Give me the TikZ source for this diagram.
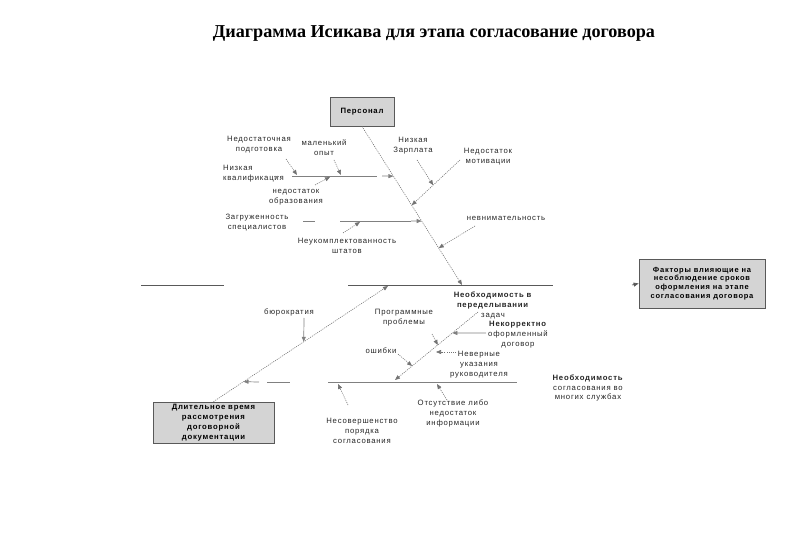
\documentclass[tikz,border=0pt]{standalone}
\usepackage{fontspec}
\setmainfont{Liberation Serif}
\newfontfamily\lblfont[LetterSpace=10]{Liberation Sans}
\usetikzlibrary{positioning, arrows.meta, calc}

\tikzset{
  lbl/.style={font=\lblfont\fontsize{6.6}{8.5}\selectfont, align=center, inner sep=0pt, text=black!85},
  boxnode/.style={draw=black!65, fill=black!17, line width=0.7pt, align=center, inner sep=0pt},
  bone/.style={draw=black!55, line width=0.5pt, dash pattern=on 0.9pt off 0.9pt},
  twig/.style={draw=black!50, line width=0.6pt},
  arr/.style={-{Triangle[length=1.5mm, width=1.2mm]}},
}

\begin{document}
\begin{tikzpicture}[x=0.3mm, y=-0.3mm]

    \useasboundingbox (0,0) rectangle (800,554);

    % Заголовок
    \node[font=\bfseries\fontsize{15.5}{18}\selectfont] (title) at (434,33) {Диаграмма Исикава для этапа согласование договора};

    % Блоки
    \node[boxnode, minimum width=19.2mm, minimum height=8.7mm, font=\lblfont\bfseries\fontsize{6.6}{8.5}\selectfont] (pers) at (362,111.5) {Персонал};
    \node[boxnode, minimum width=37.8mm, minimum height=14.7mm, font=\lblfont\bfseries\fontsize{6.4}{7.4}\selectfont] (head) at (702,283.5) {Факторы влияющие на\\несоблюдение сроков\\оформления на этапе\\согласования договора};
    \node[boxnode, minimum width=36.3mm, minimum height=12.3mm, font=\lblfont\bfseries\fontsize{6.6}{8.5}\selectfont] (dlit) at (213.5,422.5) {Длительное время\\рассмотрения\\договорной\\документации};

    % Хребет
    \coordinate (s1) at (141,285);
    \coordinate (s2) at (224,285);
    \coordinate (s3) at (348,285);
    \coordinate (s4) at (553,285);
    \coordinate (s5) at (632,285);
    \draw[twig, draw=black!65] (s1) -- (s2);
    \draw[twig, draw=black!65] (s3) -- (s4);
    \draw[twig, draw=black!65, arr] (s5) -- (head.west);

    % Кость "Персонал"
    \coordinate (pE) at (462,285);
    \draw[bone, arr] (pers.south) -- (pE);

    % Низкая квалификация
    \node[lbl, align=left, anchor=west] (kval) at (223,174) {Низкая\\квалификация};
    \draw[twig] (274,176) coordinate (a1) -- (279,176) coordinate (a2);
    \draw[twig] (292,176) coordinate (a3) -- (377,176) coordinate (a4);
    \coordinate (a5) at (382,176);
    \draw[twig, arr] (a5) -- ($(pers.south)!0.314!(pE)$);

    \node[lbl] (nedpod) at (259,145) {Недостаточная\\подготовка};
    \node[lbl] (opyt) at (324,148) {маленький\\опыт};
    \node[lbl] (obraz) at (296,197) {недостаток\\образования};
    \coordinate (na0) at (286,159);
    \coordinate (op0) at (334,160);
    \coordinate (ob0) at (315,185);
    \draw[bone, arr] (na0) -- (297,175);
    \draw[bone, arr] (op0) -- (341,175);
    \draw[bone, arr] (ob0) -- (330,177);

    % Загруженность
    \node[lbl] (zagr) at (257,222.5) {Загруженность\\специалистов};
    \draw[twig] (303,221) coordinate (b1) -- (315,221) coordinate (b2);
    \draw[twig] (340,221) coordinate (b3) -- (411,221) coordinate (b4);
    \draw[twig, arr] (b4) -- ($(pers.south)!0.597!(pE)$);

    \node[lbl] (shtat) at (347,245.5) {Неукомплектованность\\штатов};
    \coordinate (sh0) at (343,233);
    \draw[bone, arr] (sh0) -- (360,222);

    % Мотивация
    \node[lbl] (motiv) at (488,157) {Недостаток\\мотивации};
    \node[lbl] (zarp) at (413,146) {Низкая\\Зарплата};
    \coordinate (cB) at (460,160);
    \coordinate (cE) at ($(pers.south)!0.497!(pE)$);
    \draw[bone, arr] (cB) -- (cE);
    \coordinate (za0) at (417,160);
    \draw[bone, arr] (za0) -- ($(cB)!0.556!(cE)$);

    \node[lbl] (vnim) at (506,218) {невнимательность};
    \coordinate (vn0) at (475,226);
    \draw[bone, arr] (vn0) -- ($(pers.south)!0.767!(pE)$);

    % Кость "Длительное время"
    \coordinate (dE) at (388,286);
    \draw[bone, arr] (dlit.north) -- (dE);

    \node[lbl] (bur) at (289,312) {бюрократия};
    \coordinate (bu0) at (304,318);
    \draw[twig, arr] (bu0) -- ($(dlit.north)!0.517!(dE)$);

    % Согласование во многих службах
    \node[lbl] (sogl) at (588,388) {\textbf{Необходимость}\\согласования во\\многих службах};
    \draw[twig] (328,382) coordinate (d1) -- (517,382) coordinate (d2);
    \draw[twig] (267,382) coordinate (d3) -- (290,382) coordinate (d4);
    \coordinate (d5) at (259,382);
    \draw[twig, arr] (d5) -- ($(dlit.north)!0.172!(dE)$);

    \node[lbl] (nesov) at (362,430.5) {Несовершенство\\порядка\\согласования};
    \node[lbl] (otsut) at (453,413.5) {Отсутствие либо\\недостаток\\информации};
    \coordinate (ns0) at (348,405);
    \coordinate (ot0) at (447,400);
    \draw[bone, arr] (ns0) -- (338,384);
    \draw[bone, arr] (ot0) -- (437,384);

    % Переделывание задач
    \node[lbl] (pered) at (493,305) {\textbf{Необходимость в}\\\textbf{переделывании}\\задач};
    \coordinate (eB) at (478,312);
    \coordinate (eE) at (395,380);
    \draw[bone, arr] (eB) -- (eE);

    \node[lbl] (progr) at (404,318) {Программные\\проблемы};
    \node[lbl] (nekorr) at (518,335) {\textbf{Некорректно}\\оформленный\\договор};
    \node[lbl] (oshib) at (381,351) {ошибки};
    \node[lbl] (never) at (479,365) {Неверные\\указания\\руководителя};
    \coordinate (pr0) at (432,334);
    \coordinate (nk0) at (486,333);
    \coordinate (nv0) at (456,352);
    \coordinate (os0) at (398,354);
    \draw[bone, arr] (pr0) -- ($(eB)!0.485!(eE)$);
    \draw[twig, arr] (nk0) -- ($(eB)!0.309!(eE)$);
    \draw[bone, arr] (nv0) -- (436,352);
    \draw[bone, arr] (os0) -- ($(eB)!0.794!(eE)$);

\end{tikzpicture}
\end{document}
